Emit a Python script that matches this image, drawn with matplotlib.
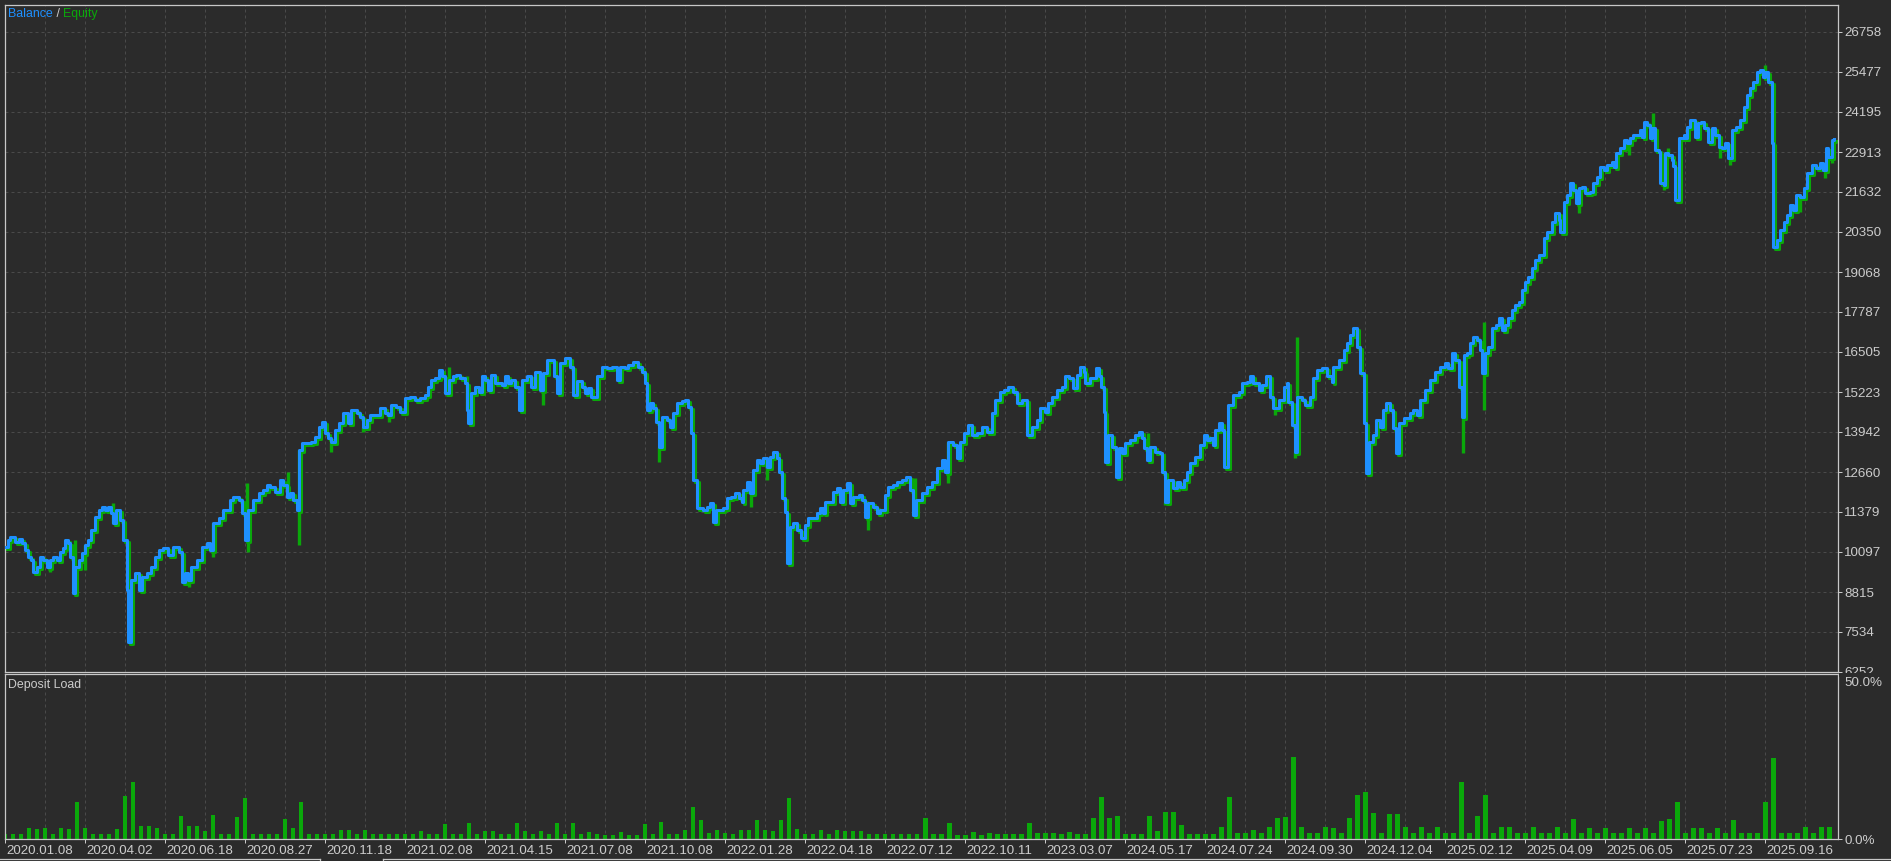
import matplotlib
matplotlib.use('Agg')
import matplotlib.pyplot as plt
import matplotlib.transforms as mtrans
from matplotlib.lines import Line2D
from matplotlib.patches import Rectangle
import numpy as np

plt.rcParams['font.family'] = ['Liberation Sans', 'DejaVu Sans']

# balance curve: trade number and balance
trade_no = [
    0, 0.4, 0.6, 1.25, 1.7, 2.1, 2.5, 2.9, 3.3, 3.5,
    4.0, 4.4, 4.8, 5.2, 5.6, 6.0, 6.5, 6.9, 7.3, 7.5,
    7.9, 8.1, 8.5, 8.75, 9.2, 9.6, 10.0, 10.4, 10.8, 11.25,
    11.7, 12.1, 12.5, 12.9, 13.3, 13.5, 13.9, 14.4, 14.8, 15.2,
    15.4, 15.8, 16.25, 16.7, 17.1, 17.7, 18.3, 18.75, 19.2, 19.8,
    20.4, 21.0, 21.7, 22.1, 22.5, 22.9, 23.3, 23.95, 24.6, 25.2,
    25.6, 26.0, 26.7, 27.3, 28.1, 28.5, 29.2, 29.6, 30.0, 30.4,
    31.0, 31.7, 32.3, 32.7, 33.1, 33.75, 34.4, 34.8, 35.2, 35.6,
    36.0, 36.5, 36.7, 37.1, 38.3, 38.75, 39.2, 39.6, 40.0, 40.4,
    40.8, 41.25, 41.7, 42.3, 42.9, 43.3, 43.95, 44.4, 44.8, 45.2,
    45.6, 46.9, 47.5, 47.9, 48.3, 48.9, 49.4, 50.0, 50.6, 51.3,
    51.9, 52.5, 52.9, 53.3, 53.7, 54.2, 54.6, 55.0, 55.5, 56.0,
    56.4, 56.9, 57.5, 57.7, 57.9, 58.3, 58.8, 59.2, 59.6, 60.0,
    60.4, 60.8, 61.3, 62.1, 62.5, 62.9, 63.3, 63.7, 64.2, 64.6,
    65.2, 65.8, 66.3, 66.9, 67.3, 67.7, 68.6, 69.0, 69.4, 70.0,
    70.6, 71.0, 71.5, 72.1, 72.5, 72.9, 73.3, 74.0, 74.6, 75.2,
    75.9, 76.5, 76.9, 77.5, 77.9, 78.5, 79.1, 79.6, 80.0, 80.2,
    80.6, 81.0, 81.4, 81.7, 82.1, 82.7, 83.1, 83.5, 84.0, 84.6,
    85.0, 85.4, 85.8, 86.0, 86.5, 87.3, 87.7, 88.1, 88.5, 88.9,
    89.8, 90.2, 90.8, 91.2, 91.7, 92.1, 92.3, 92.7, 93.1, 93.5,
    93.95, 94.4, 94.8, 95.2, 95.6, 96.0, 96.5, 96.8, 97.1, 97.5,
    97.7, 98.1, 98.5, 99.0, 99.5, 100.0, 100.4, 101.5, 101.9, 102.3,
    102.5, 103.5, 104.0, 104.4, 104.8, 105.2, 105.6, 106.0, 106.7, 107.1,
    107.5, 107.9, 108.5, 109.0, 109.4, 110.0, 110.4, 111.0, 111.5, 112.1,
    112.6, 113.1, 113.5, 113.9, 114.6, 115.2, 115.8, 116.5, 117.1, 117.5,
    117.9, 118.5, 118.95, 119.4, 119.8, 120.4, 120.8, 121.5, 122.1, 122.7,
    123.3, 123.75, 124.4, 124.9, 125.4, 126.0, 126.5, 127.1, 127.7, 128.3,
    128.95, 129.4, 130.0, 130.4, 130.8, 131.5, 132.1, 132.5, 133.0, 133.5,
    133.95, 134.4, 134.8, 135.0, 135.6, 136.3, 136.7, 137.0, 137.3, 137.5,
    137.9, 138.3, 138.9, 139.2, 139.6, 140.0, 140.6, 141.25, 141.7, 142.1,
    142.3, 142.7, 143.1, 143.75, 144.4, 144.6, 145.0, 145.4, 146.0, 146.5,
    146.9, 147.3, 147.7, 148.1, 148.75, 149.4, 149.8, 150.2, 150.6, 151.0,
    151.25, 151.7, 152.1, 152.3, 152.9, 153.5, 154.2, 154.6, 155.2, 155.6,
    156.0, 156.7, 157.1, 157.6, 158.1, 158.5, 159.2, 159.8, 160.2, 160.4,
    160.8, 161.2, 161.5, 162.1, 162.5, 163.1, 163.5, 164.0, 164.6, 165.2,
    165.8, 166.0, 166.7, 167.3, 167.7, 168.1, 168.5, 168.95, 169.4, 169.8,
    170.1, 170.5, 171.0, 171.4, 171.8, 172.2, 172.6, 173.1, 173.5, 173.9,
    174.2, 174.8, 175.6, 176.0, 176.5, 176.9, 177.5, 178.1, 178.75, 179.4,
    180.0, 180.4, 180.8, 181.2, 181.7, 182.1, 182.3, 182.7, 183.1, 183.5,
    183.95, 184.4, 184.6, 185.0, 185.4, 185.8, 186.3, 186.7, 187.1, 187.5,
    187.9, 188.3, 188.75, 189.2, 189.6, 190.0, 190.4, 190.8, 191.25, 191.7,
    192.3, 192.7, 193.3, 193.75, 194.2, 194.4, 194.8, 195.2, 195.6, 196.0,
    196.4, 196.7, 197.1, 197.5, 198.1, 198.5, 198.95, 199.4, 199.8, 200.2,
    200.8, 201.1, 201.4, 201.9, 202.3, 202.7, 203.1, 203.5, 204.4, 204.6,
    204.8, 205.2, 205.6, 205.8, 206.25, 206.7, 206.9, 207.3, 207.5, 207.9,
    208.3, 208.5, 208.75, 209.2, 209.8, 210.0, 210.2, 210.6, 211.25, 211.6,
    212.0, 212.4, 212.9, 213.3, 213.7, 214.2, 214.6, 215.0, 215.4, 215.8,
    216.4, 216.9, 217.3, 217.75, 218.1, 218.5, 218.95, 219.4, 219.7, 220.0,
    220.4, 220.8, 221.0, 221.5, 221.9, 222.3, 222.7, 223.1, 223.5, 223.8,
    224.4, 224.8, 225.2, 225.8, 226.4, 226.9, 227.2, 227.6, 227.9, 228.3,
    228.6,
]
balance = [
    10270, 10480, 10590, 10430, 10500, 10380, 10160, 9950, 9840, 9470,
    9630, 9950, 9840, 9630, 9840, 9950, 9840, 10110, 10220, 10480,
    10380, 9950, 8770, 9630, 9840, 10060, 10320, 10480, 10800, 11230,
    11440, 11550, 11440, 11550, 11340, 11020, 11440, 11120, 10480, 8880,
    7220, 9200, 9410, 8880, 9310, 9410, 9630, 9950, 10160, 10220,
    10000, 10270, 10110, 9150, 9410, 9200, 9630, 9840, 10270, 10380,
    10160, 11020, 11180, 11440, 11760, 11870, 11760, 11340, 10480, 11440,
    11760, 11980, 12080, 12240, 12190, 12030, 12400, 12240, 11870, 11980,
    11760, 11440, 13370, 13580, 13630, 13790, 14110, 14270, 13900, 13740,
    13630, 14010, 14220, 14540, 14220, 14650, 14540, 14430, 14110, 14330,
    14490, 14700, 14540, 14490, 14810, 14750, 14590, 15020, 15070, 14970,
    15020, 15130, 15390, 15610, 15660, 15930, 15720, 15180, 15610, 15720,
    15770, 15660, 15500, 14650, 14220, 15180, 15390, 15230, 15720, 15610,
    15290, 15770, 15500, 15450, 15720, 15500, 15610, 15390, 14650, 15610,
    15720, 15390, 15880, 15290, 15820, 16250, 15720, 15180, 16140, 16300,
    16040, 15130, 15560, 15390, 15180, 15340, 15070, 15720, 16040, 15980,
    16040, 15610, 16040, 15980, 16090, 16200, 16040, 15880, 15500, 14650,
    14860, 14700, 14270, 13470, 14430, 14330, 14110, 14540, 14860, 14920,
    14970, 14750, 13900, 12400, 11500, 11440, 11550, 11660, 11070, 11440,
    11500, 11820, 11870, 11980, 11820, 11710, 12080, 12350, 11980, 12730,
    13050, 12940, 13100, 12830, 13150, 13310, 13100, 12670, 11820, 11390,
    9730, 10910, 11020, 10800, 10540, 10960, 11180, 11340, 11500, 11340,
    11710, 12030, 12140, 11710, 12080, 12300, 11660, 11870, 11920, 11760,
    11230, 11660, 11550, 11340, 11440, 11920, 12190, 12240, 12350, 12400,
    12510, 12080, 11280, 11760, 11980, 12190, 12350, 12780, 13050, 12670,
    13630, 13520, 13100, 13630, 13900, 14170, 13850, 13900, 14110, 13950,
    14540, 14970, 15230, 15290, 15390, 15230, 14860, 14970, 13850, 14110,
    14330, 14700, 14590, 14860, 15070, 15290, 15390, 15720, 15660, 15340,
    15770, 16040, 15880, 15500, 15660, 15980, 15720, 15390, 14590, 12990,
    13850, 13470, 12510, 13420, 13260, 13580, 13690, 13850, 13950, 13740,
    13420, 13050, 13470, 13310, 13260, 12670, 11710, 12400, 12140, 12350,
    12190, 12400, 12670, 12940, 13150, 13530, 13850, 13690, 13740, 13530,
    14010, 14220, 14010, 12830, 14810, 15130, 15230, 15500, 15550, 15720,
    15500, 15290, 15450, 15720, 15070, 14700, 14970, 15390, 15500, 14910,
    14170, 13310, 15070, 14970, 14810, 15070, 15660, 15930, 15980, 15720,
    15550, 16040, 16250, 16570, 16780, 17050, 17260, 16680, 15820, 14220,
    12620, 13630, 13850, 14330, 14110, 14650, 14860, 14650, 14060, 13260,
    14220, 14380, 14540, 14650, 14490, 14970, 15290, 15610, 15880, 16040,
    16140, 15980, 16460, 16250, 15390, 14430, 16410, 16460, 16780, 17000,
    16890, 16570, 15820, 16460, 16680, 17260, 17370, 17580, 17210, 17370,
    17580, 17850, 18010, 18120, 18490, 18760, 18920, 19190, 19450, 19610,
    20150, 20360, 20680, 20950, 20740, 20360, 21320, 21540, 21910, 21690,
    21270, 21750, 21800, 21590, 21640, 21910, 22120, 22440, 22340, 22500,
    22600, 22440, 22870, 23030, 23300, 23190, 23350, 23460, 23620, 23400,
    23880, 23780, 23350, 23670, 22980, 22920, 21910, 21860, 22870, 22820,
    22660, 22450, 21380, 23350, 23460, 23350, 23720, 23940, 23400, 23830,
    23880, 23670, 23240, 23670, 23460, 23080, 23030, 23190, 22710, 23620,
    23720, 23940, 24370, 24740, 24950, 25170, 25490, 25540, 25330, 25490,
    25170, 23190, 19880, 20090, 20410, 20680, 20890, 21210, 21050, 21540,
    21480, 21750, 22230, 22500, 22390, 22550, 22340, 23030, 22760, 23300,
    23320,
]

# equity excursions away from balance (trade number, equity extreme)
equity_t = [5.6, 8.75, 10.0, 13.5, 15.8, 23.0, 26.0, 30.2, 30.4, 35.4,
            36.7, 40.8, 44.8, 48.0, 55.5, 57.7, 67.3, 81.7, 93.3, 95.2,
            107.9, 113.7, 117.9, 142.9, 145.0, 158.75, 161.2, 161.5, 182.2, 184.8,
            184.9, 196.7, 203.0, 206.0, 207.3, 207.9, 209.0, 214.4, 215.6, 220.0,
            221.5, 224.3, 227.5, 228.3]
equity_v = [9470, 10480, 9520, 11660, 7760, 8990, 9950, 12300, 10110, 12670,
            10320, 13310, 13950, 14270, 16040, 15720, 14810, 12990, 11550, 12400,
            10800, 12460, 12300, 13900, 11600, 14490, 13100, 17000, 13260, 17480,
            14650, 20950, 22820, 24150, 21700, 23030, 21320, 22710, 22500, 25700,
            19770, 21000, 22070, 22550]

# deposit load in %, one value per trade number 0..228
deposit_load = [
    1.5, 1.5, 1.5, 3.2, 3.0, 3.4, 1.5, 3.2, 2.9, 11.1,
    3.2, 1.5, 1.5, 1.5, 3.0, 13.0, 17.4, 4.0, 4.0, 3.2,
    1.5, 1.5, 7.1, 4.0, 4.0, 2.4, 7.3, 1.5, 1.5, 6.8,
    12.3, 1.5, 1.5, 1.5, 1.5, 6.0, 3.2, 11.1, 1.5, 1.5,
    1.5, 1.5, 2.7, 2.7, 1.5, 2.7, 1.5, 1.5, 1.5, 1.5,
    1.5, 1.5, 2.5, 1.5, 1.5, 4.6, 1.5, 1.5, 4.8, 1.5,
    2.5, 2.5, 1.5, 1.5, 5.0, 2.5, 1.5, 2.5, 1.5, 4.8,
    1.5, 4.8, 1.5, 2.2, 1.5, 1.2, 1.2, 2.2, 1.2, 1.2,
    4.5, 1.4, 5.2, 1.4, 1.4, 2.6, 9.6, 5.9, 1.8, 2.6,
    1.8, 1.4, 2.6, 2.8, 5.9, 2.6, 2.4, 5.9, 12.3, 3.0,
    1.5, 1.5, 2.6, 1.5, 2.6, 2.5, 2.5, 2.5, 1.5, 1.5,
    1.5, 1.5, 1.5, 1.5, 1.5, 6.3, 1.5, 1.5, 4.7, 1.3,
    1.3, 2.0, 1.3, 1.8, 1.5, 1.5, 1.5, 1.5, 4.7, 1.8,
    1.8, 1.8, 1.5, 2.0, 1.5, 1.5, 6.3, 12.6, 6.3, 7.1,
    1.5, 1.5, 1.5, 7.1, 2.5, 8.1, 8.1, 4.3, 1.5, 1.5,
    1.5, 1.5, 3.6, 12.8, 1.7, 1.7, 2.6, 1.7, 3.6, 6.4,
    6.6, 25.0, 3.5, 1.7, 1.7, 3.5, 3.2, 1.7, 6.3, 13.3,
    14.3, 8.0, 1.7, 7.6, 7.6, 3.5, 1.7, 3.5, 1.7, 3.5,
    1.7, 1.7, 17.4, 1.7, 7.0, 13.3, 1.7, 3.5, 3.5, 1.7,
    1.7, 3.5, 1.7, 1.7, 3.5, 1.7, 6.0, 1.7, 3.2, 1.7,
    3.2, 1.7, 1.7, 3.2, 1.7, 3.2, 1.7, 5.4, 6.2, 11.3,
    1.7, 3.2, 3.2, 1.7, 3.2, 1.7, 5.8, 1.7, 1.7, 1.7,
    11.3, 24.5, 1.7, 1.7, 1.7, 3.5, 1.7, 3.5, 3.5,
]

date_labels = ['2020.01.08', '2020.04.02', '2020.06.18', '2020.08.27', '2020.11.18',
               '2021.02.08', '2021.04.15', '2021.07.08', '2021.10.08', '2022.01.28',
               '2022.04.18', '2022.07.12', '2022.10.11', '2023.03.07', '2024.05.17',
               '2024.07.24', '2024.09.30', '2024.12.04', '2025.02.12', '2025.04.09',
               '2025.06.05', '2025.07.23', '2025.09.16']
price_ticks = [6252, 7534, 8815, 10097, 11379, 12660, 13942, 15223, 16505,
               17787, 19068, 20350, 21632, 22913, 24195, 25477, 26758]

BG = '#2b2b2b'
GRID = '#4a4a4a'
FRAME = '#c8c8c8'
TXT = '#cccccc'
BLUE = '#1e90ff'
GREEN = '#0aa80a'
FS = 9.6      # axis numbers
FS_T = 8.9    # panel captions

W, H = 1891, 861
fig = plt.figure(figsize=(W / 100, H / 100), dpi=100, facecolor=BG)


def box(x0, y0, x1, y1):
    # pixel box (top-left origin) -> figure fraction rect
    return [x0 / W, 1 - y1 / H, (x1 - x0) / W, (y1 - y0) / H]


ax = fig.add_axes(box(5, 5, 1838, 672))
ax2 = fig.add_axes(box(5, 674, 1838, 839))
xmax = 229.1

for a in (ax, ax2):
    a.set_facecolor(BG)
    for s in a.spines.values():
        s.set_color(FRAME)
        s.set_linewidth(0.9)
    a.set_xlim(0, xmax)
    a.set_xticks(np.arange(5, xmax, 5), minor=True)
    a.grid(True, which='both', axis='x', color=GRID, ls=(0, (3, 3)), lw=0.72)
    a.set_axisbelow(True)

# --- balance / equity panel
ax.set_ylim(6252, 27623)
ax.yaxis.tick_right()
ax.set_yticks(price_ticks)
ax.set_yticklabels([str(v) for v in price_ticks])
ax.tick_params(axis='y', colors=FRAME, labelcolor=TXT, length=3, width=0.72,
               pad=1.5, labelsize=FS)
ax.set_xticks(np.arange(0, xmax, 10))
ax.tick_params(axis='x', which='both', length=0, labelbottom=False)
ax.grid(True, axis='y', color=GRID, ls=(0, (3, 3)), lw=0.72)

shift = mtrans.ScaledTranslation(2 / 100, -2 / 100, fig.dpi_scale_trans)
ax.plot(trade_no, balance, drawstyle='steps-post', color=GREEN, lw=2.2,
        transform=ax.transData + shift, zorder=2)
idx = np.searchsorted(trade_no, equity_t, side='right') - 1
base = np.array(balance)[idx]
ax.vlines(equity_t, base, equity_v, color=GREEN, lw=2.4, zorder=2)
ax.plot(trade_no, balance, drawstyle='steps-post', color=BLUE, lw=2.2, zorder=3)

t1 = ax.annotate('Balance', xy=(8, H - 14), xycoords='figure pixels', va='center',
                 color=BLUE, fontsize=FS_T)
t2 = ax.annotate(' / ', xy=(1, 0.5), xycoords=t1, va='center', color=TXT, fontsize=FS_T)
ax.annotate('Equity', xy=(1, 0.5), xycoords=t2, va='center', color=GREEN, fontsize=FS_T)

# --- deposit load panel
ax2.bar(np.arange(len(deposit_load)), deposit_load, width=0.6, color=GREEN, lw=0)
ax2.set_ylim(0, 50)
ax2.yaxis.tick_right()
ax2.set_yticks([0, 50])
ax2.set_yticklabels(['0.0%', '50.0%'])
ax2.tick_params(axis='y', colors=FRAME, labelcolor=TXT, length=3, width=0.72,
                pad=1.5, labelsize=FS)
top_lab = ax2.get_yticklabels()[1]
top_lab.set_va('top')
top_lab.set_transform(top_lab.get_transform()
                      + mtrans.ScaledTranslation(0, -3 / 100, fig.dpi_scale_trans))
ax2.set_xticks(np.arange(0, xmax, 10))
ax2.set_xticklabels(date_labels)
ax2.tick_params(axis='x', which='major', colors=FRAME, labelcolor=TXT, length=3,
                width=0.72, pad=1.5, labelsize=FS)
ax2.tick_params(axis='x', which='minor', length=0)
lab_shift = mtrans.ScaledTranslation(1 / 100, 0, fig.dpi_scale_trans)
for lab in ax2.get_xticklabels():
    lab.set_ha('left')
    lab.set_transform(lab.get_transform() + lab_shift)
ax2.annotate('Deposit Load', xy=(8, H - 685), xycoords='figure pixels', va='center',
             color=TXT, fontsize=FS_T)

# hide the lower half of the bottom price label, as in the terminal
fig.add_artist(Rectangle((1839 / W, 1 - 677 / H), (W - 1839) / W, 4.5 / H,
                         transform=fig.transFigure, facecolor=BG, edgecolor='none',
                         zorder=5))
# tab strip frame at the very bottom
yb = 1 - 859 / H
fig.add_artist(Line2D([0, 320 / W], [yb, yb], color=FRAME, lw=0.9))
fig.add_artist(Line2D([383 / W, 1], [yb, yb], color=FRAME, lw=0.9))
fig.add_artist(Line2D([320 / W, 320 / W], [0, yb], color=FRAME, lw=0.9))
fig.add_artist(Line2D([383 / W, 383 / W], [0, yb], color=FRAME, lw=0.9))

fig.savefig('out.png', dpi=100, facecolor=BG)
